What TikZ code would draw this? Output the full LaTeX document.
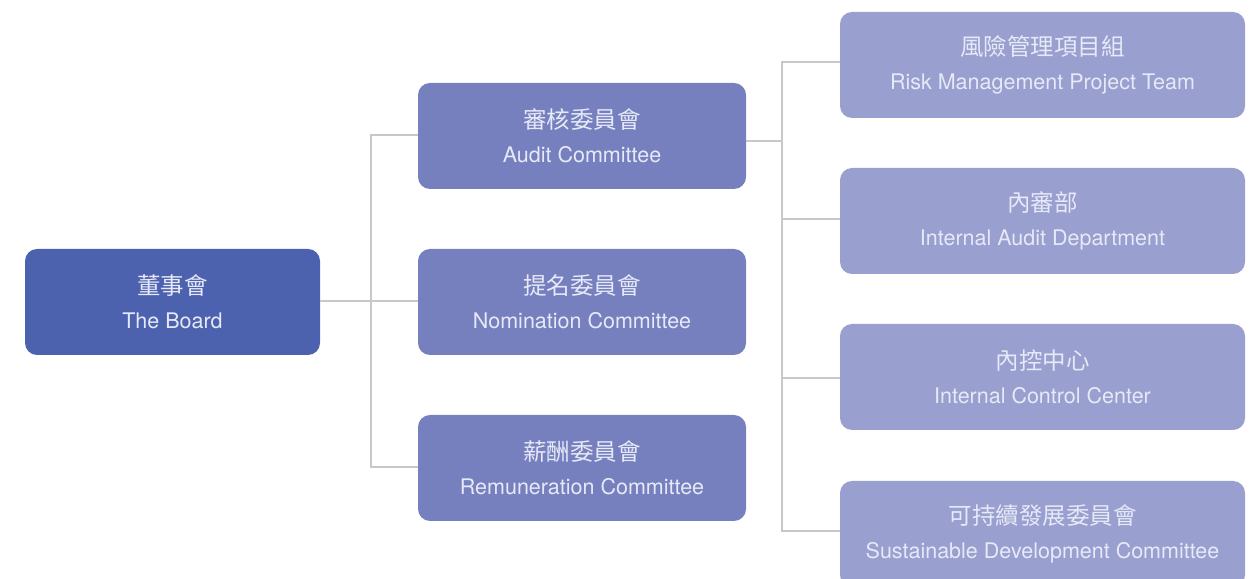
\documentclass[tikz,border=0pt]{standalone}
\usepackage{fontspec}
\setmainfont{TeX Gyre Heros}
\newfontfamily\cjk{Noto Sans CJK TC}
\newcommand\zhline[1]{{\cjk\fontsize{23.5}{26}\selectfont #1}}
\definecolor{boardblue}{RGB}{77,98,174}
\definecolor{commblue}{RGB}{118,128,190}
\definecolor{unitblue}{RGB}{153,159,206}
\definecolor{labeltext}{RGB}{230,233,247}
\definecolor{linegray}{RGB}{200,200,200}
\tikzset{
  box/.style={shape=rectangle, rounded corners=12pt, minimum height=106pt, align=center,
    text=labeltext, font=\fontsize{21.5}{24}\selectfont, inner sep=0pt},
  boardbox/.style={box, fill=boardblue, minimum width=295pt},
  commbox/.style={box, fill=commblue, minimum width=328pt},
  unitbox/.style={box, fill=unitblue, minimum width=405pt},
  link/.style={draw=linegray, line width=1.2pt}
}
\begin{document}
\begin{tikzpicture}[x=1pt, y=1pt]
		\useasboundingbox (0,0) rectangle (1252,578);
		\clip (0,0) rectangle (1252,578);
		
		\node (board) at (172.5,276) [boardbox] {\zhline{董事會}\\[10pt]The Board};
		
		\node (audit) at (582,442) [commbox] {\zhline{審核委員會}\\[10pt]Audit Committee};
		\node (nomin) at (582,276) [commbox] {\zhline{提名委員會}\\[10pt]Nomination Committee};
		\node (remun) at (582,110) [commbox] {\zhline{薪酬委員會}\\[10pt]Remuneration Committee};
		
		\node (risk) at (1042.5,513) [unitbox] {\zhline{風險管理項目組}\\[10pt]Risk Management Project Team};
		\node (inaud) at (1042.5,357) [unitbox] {\zhline{內審部}\\[10pt]Internal Audit Department};
		\node (inctl) at (1042.5,201) [unitbox] {\zhline{內控中心}\\[10pt]Internal Control Center};
		\node (sust) at (1042.5,44) [unitbox] {\zhline{可持續發展委員會}\\[10pt]Sustainable Development Committee};
		
		% board to committees
		\coordinate (j1) at (371,277);
		\draw[link] (board.east |- j1) -- (j1);
		\draw[link] (j1) |- (audit.west |- 0,443);
		\draw[link] (j1) -- (nomin.west |- j1);
		\draw[link] (j1) |- (remun.west |- 0,111);
		
		% audit committee to units
		\coordinate (j2) at (782,437);
		\draw[link] (audit.east |- j2) -- (j2);
		\draw[link] (j2) |- (risk.west |- 0,516);
		\draw[link] (j2) |- (inaud.west |- 0,359);
		\draw[link] (j2) |- (inctl.west |- 0,200);
		\draw[link] (j2) |- (sust.west |- 0,47);
	\end{tikzpicture}
\end{document}
